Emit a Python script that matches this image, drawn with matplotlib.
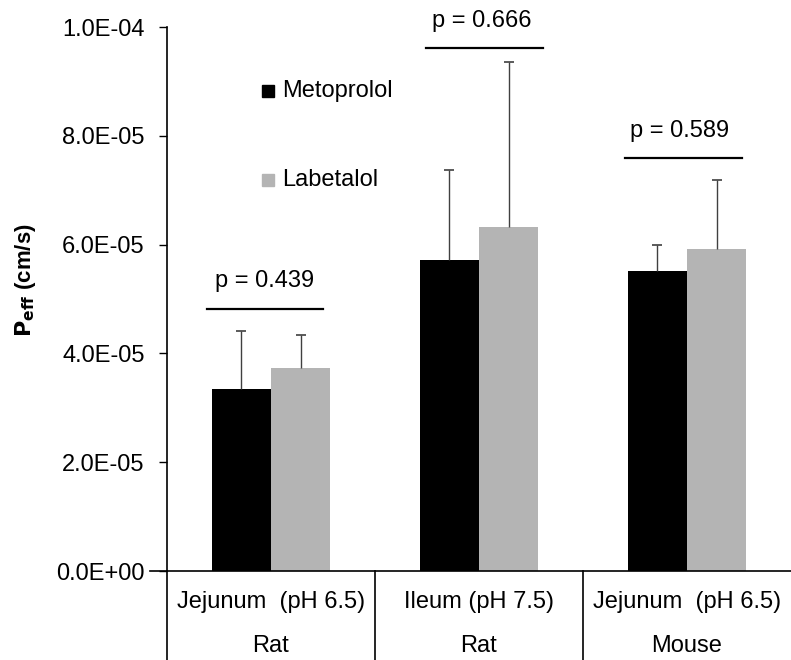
"""
Effective permeability of metoprolol and labetalol in rat and mouse intestine.
"""

import numpy as np
import matplotlib.pyplot as plt

plt.rcParams['font.family'] = ['Liberation Sans', 'DejaVu Sans']

# data
segments = ["Jejunum  (pH 6.5)", "Ileum (pH 7.5)", "Jejunum  (pH 6.5)"]
species = ["Rat", "Rat", "Mouse"]
metoprolol = [3.34e-5, 5.72e-5, 5.52e-5]
metoprolol_sd = [1.08e-5, 1.66e-5, 0.48e-5]
labetalol = [3.74e-5, 6.33e-5, 5.91e-5]
labetalol_sd = [0.59e-5, 3.03e-5, 1.28e-5]
p_values = ["p = 0.439", "p = 0.666", "p = 0.589"]
p_line_y = [4.81e-5, 9.61e-5, 7.60e-5]
p_text_y = [5.34e-5, 10.11e-5, 8.09e-5]
yticks = [0, 2e-5, 4e-5, 6e-5, 8e-5, 1e-4]
ytick_labels = ["0.0E+00", "2.0E-05", "4.0E-05", "6.0E-05", "8.0E-05", "1.0E-04"]

# where the p-value bars and texts sit inside each group (hand placed in the original)
p_line_start = [-0.31, -0.255, -0.298]
p_line_end = [0.25, 0.308, 0.264]
p_text_dx = [-0.029, 0.014, -0.034]

fs = 17
fig = plt.figure(figsize=(7.91, 6.6), dpi=100)
ax = fig.add_axes([167/791, 89/660, 624/791, 544/660])

x = np.arange(len(segments))
w = 0.286

def bars_with_sd(xpos, vals, sd, color):
    """Bars with an upper-only error bar (no cap at the bar top)."""
    vals = np.array(vals)
    sd = np.array(sd)
    ax.bar(xpos, vals, w, color=color, zorder=2)
    ax.vlines(xpos, vals, vals + sd, color="#404040", lw=1, zorder=3)
    ax.plot(xpos, vals + sd, ls="none", marker="_", ms=7, mew=1.2,
            color="#404040", zorder=3)

bars_with_sd(x - w/2, metoprolol, metoprolol_sd, "black")
bars_with_sd(x + w/2, labetalol, labetalol_sd, "#b4b4b4")

# p-value annotations
for i in range(len(x)):
    ax.plot([x[i] + p_line_start[i], x[i] + p_line_end[i]], [p_line_y[i]]*2,
            color="black", lw=1.6, clip_on=False)
    ax.text(x[i] + p_text_dx[i], p_text_y[i], p_values[i], ha="center",
            va="center", fontsize=fs, clip_on=False)

ax.set_xlim(-0.5, 2.5)
ax.set_ylim(0, 1e-4)
ax.set_yticks(yticks)
ax.set_yticklabels(ytick_labels, fontsize=fs)
ax.tick_params(axis="y", direction="out", length=6, width=1, pad=10)
ax.set_xticks([])
ax.set_ylabel(r"$\mathbf{P_{eff}}$ (cm/s)", fontsize=16, fontweight="bold")
ax.yaxis.set_label_coords(-0.207, 0.535)

for s in ["top", "right"]:
    ax.spines[s].set_visible(False)
ax.spines["left"].set_linewidth(1.2)
ax.spines["bottom"].set_linewidth(1.2)
ax.spines["bottom"].set_bounds(-0.58, 2.5)

# two-level category axis with separators running to the bottom
trans = ax.get_xaxis_transform()
for b in [-0.5, 0.5, 1.5]:
    ax.plot([b, b], [0, -0.2], color="black", lw=1.2, transform=trans,
            clip_on=False)
for i in range(len(x)):
    ax.text(x[i], -0.057, segments[i], ha="center", va="center",
            fontsize=fs, transform=trans)
    ax.text(x[i], -0.137, species[i], ha="center", va="center",
            fontsize=fs, transform=trans)

# legend
names = ["Metoprolol", "Labetalol"]
colors = ["black", "#b4b4b4"]
leg_y = [0.882, 0.719]
for name, c, ly in zip(names, colors, leg_y):
    ax.plot([0.162], [ly], marker="s", ms=9, color=c, transform=ax.transAxes,
            clip_on=False)
    ax.text(0.184, ly, name, va="center", fontsize=fs, transform=ax.transAxes)

fig.savefig("out.png", dpi=100)
